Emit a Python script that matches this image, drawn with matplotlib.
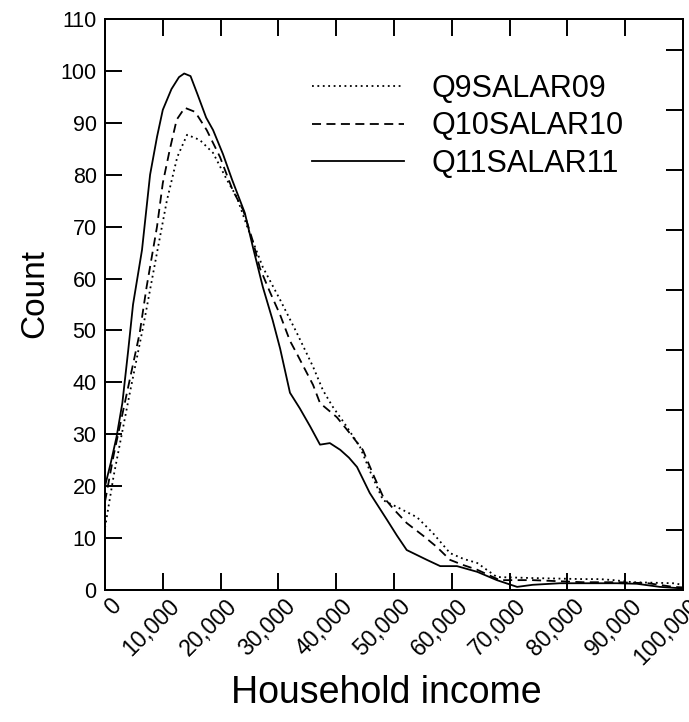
import numpy as np
import matplotlib.pyplot as plt
from matplotlib.transforms import ScaledTranslation

plt.rcParams['font.family'] = ['Liberation Sans', 'DejaVu Sans']

# Curvas (renda domiciliar x contagem)
inc_q9 = [0, 1500, 4300, 6600, 9000, 10700, 12500, 14200, 16400, 18700, 21100, 22800,
          24600, 27300, 30300, 33200, 36000, 37700, 39400, 41500, 44100, 46000, 48100,
          50500, 54000, 56700, 59700, 62000, 64400, 67800, 74000, 82700, 85600, 88000,
          91300, 95000, 98300, 100000]
val_q9 = [12, 22, 38, 50.7, 65, 75, 83.4, 87.7, 86.7, 84.2, 79, 75.7,
          70, 62.2, 55.9, 49.5, 43, 38.5, 35.3, 32, 27.6, 22.5, 17.3,
          16, 14, 11, 7.1, 6, 5.2, 2.5, 2.3, 2.1, 2.1, 1.9,
          1.5, 1.4, 1.3, 1.0]

inc_q10 = [0, 1500, 3800, 6000, 7200, 9000, 10000, 11200, 12400, 13800, 15600, 17600,
           19900, 22100, 23900, 25500, 26800, 28500, 30300, 32000, 33200, 36000, 37200,
           40100, 42500, 44600, 46500, 48100, 50000, 52200, 55000, 57400, 59700, 62000,
           64400, 68300, 74000, 82700, 88600, 94000, 98300, 100000]
val_q10 = [17, 26, 38, 49.5, 58.4, 70, 78.4, 84.8, 90.6, 92.9, 92.1, 88.6,
           83.4, 77, 73.2, 67.5, 62, 57.5, 53, 48, 45.5, 39.5, 36,
           33.3, 30, 27, 22, 18, 15.5, 12.9, 10.5, 8.3, 5.8, 4.8,
           3.9, 1.9, 1.9, 1.5, 1.5, 1.3, 0.6, 0.5]

inc_q11 = [0, 1000, 2000, 3000, 4000, 4850, 6400, 7800, 9000, 10000, 11500, 12800, 13700,
           14800, 16000, 17500, 18700, 20400, 22000, 24200, 25600, 27300, 29000, 30300,
           32000, 33700, 35500, 37200, 38900, 40700, 42200, 43600, 45800, 48800, 50500,
           52200, 55700, 58000, 60900, 64400, 67800, 71300, 74000, 78700, 83000, 88600,
           92000, 96000, 100000]
val_q11 = [20, 24.5, 29.5, 36, 46, 55, 65.5, 80, 87.3, 92.5, 96.5, 98.8, 99.5,
           99, 95.5, 91, 88.6, 84, 79, 72.6, 66, 58.4, 52, 46.5,
           38, 35, 31.5, 28, 28.3, 27, 25.5, 23.7, 18.7, 13.5, 10.5,
           7.7, 5.8, 4.6, 4.6, 3.5, 1.9, 0.6, 1.0, 1.3, 1.3, 1.3,
           1.2, 0.6, 0.3]

xticks = np.arange(0, 100001, 10000)
xlabels = ['{:,}'.format(v) for v in xticks]
yticks = np.arange(0, 111, 10)

fig = plt.figure(figsize=(6.89, 7.22), dpi=100)
ax = fig.add_axes([105/689, 1 - 590/722, 578/689, 571/722])

lw = 1.3
ax.plot(inc_q9, val_q9, color='black', lw=lw, dashes=(1, 2), label='Q9SALAR09')
ax.plot(inc_q10, val_q10, color='black', lw=lw, dashes=(5, 3), label='Q10SALAR10')
ax.plot(inc_q11, val_q11, color='black', lw=lw, label='Q11SALAR11')

ax.set_xlim(0, 100000)
ax.set_ylim(0, 110)
ax.set_xticks(xticks)
ax.set_xticklabels(xlabels, rotation=45, ha='right', va='center', rotation_mode='anchor')
ax.set_yticks(yticks)
ax.tick_params(axis='x', direction='in', length=12, width=1.4, top=True, labelsize=16.5, pad=9)
ax.tick_params(axis='y', direction='in', length=12, width=1.4, right=False, labelsize=15.5, pad=6)
for lab in ax.get_xticklabels():
    lab.set_transform(lab.get_transform() + ScaledTranslation(13/100, 0, fig.dpi_scale_trans))
for s in ax.spines.values():
    s.set_linewidth(1.4)

# eixo da direita com outra escala (sem rotulos)
ax2 = ax.twinx()
ax2.set_ylim(0, 571/60)
ax2.set_yticks(np.arange(1, 10))
ax2.tick_params(axis='y', direction='in', length=12, width=1.4, labelright=False)
for s in ax2.spines.values():
    s.set_linewidth(1.4)

ax.set_ylabel('Count', fontsize=24)
ax.yaxis.set_label_coords(-0.095, 0.52)
ax.set_xlabel('Household income', fontsize=27)
ax.xaxis.set_label_coords(0.487, -0.148)

ax.legend(loc='upper left', bbox_to_anchor=(0.358, 0.904), frameon=False, fontsize=22,
          handlelength=3, handletextpad=0.9, labelspacing=0.25, borderpad=0, borderaxespad=0)

plt.savefig('out.png', dpi=100)
